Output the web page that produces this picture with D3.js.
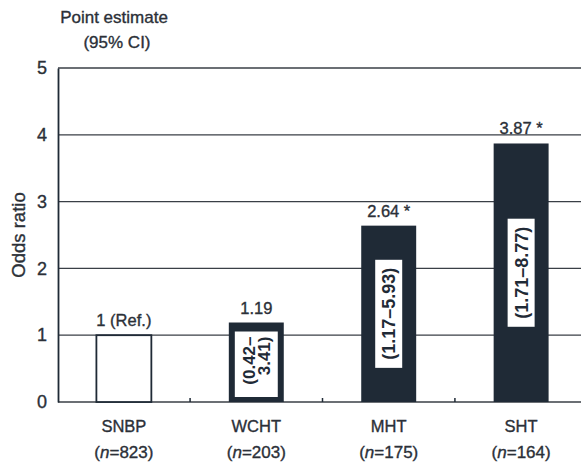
<!DOCTYPE html>
<html>
<head>
<meta charset="utf-8">
<script src="https://cdn.jsdelivr.net/npm/d3@7"></script>
<style>
  html, body { margin: 0; padding: 0; background: #fff; }
  svg { display: block; font-family: "Liberation Sans", Arial, sans-serif; }
  .lbl { fill: #2b3038; stroke: #2b3038; stroke-width: 0.35px; }
</style>
</head>
<body>
<svg id="chart" width="581" height="466"></svg>
<script>
// Odds ratio by group, with 95% confidence intervals
const categories = ["SNBP", "WCHT", "MHT", "SHT"];
const sampleSizes = [823, 203, 175, 164];
const oddsRatios = [1, 1.19, 2.64, 3.87];
const ciLabels = [null, ["(0.42–", "3.41)"], ["(1.17–5.93)"], ["(1.71–8.77)"]];
const valueLabels = ["1 (Ref.)", "1.19", "2.64 *", "3.87 *"];
const yTicks = [0, 1, 2, 3, 4, 5];

const ink = "#1f2a36";

const svg = d3.select("#chart");

const y = d3.scaleLinear().domain([0, 5]).range([402, 68]);
const x = d3.scaleBand()
  .domain(categories)
  .range([58, 587])
  .paddingInner(0.585)
  .paddingOuter(0.29);

// Horizontal gridlines
svg.append("g")
  .selectAll("line")
  .data(yTicks)
  .join("line")
  .attr("x1", 58).attr("x2", 581)
  .attr("y1", d => y(d)).attr("y2", d => y(d))
  .attr("stroke", "#3a3f46")
  .attr("stroke-width", 1.3);

// Y axis
const yAxis = d3.axisLeft(y).tickValues(yTicks).tickSize(0).tickPadding(11).tickFormat(d3.format("d"));
const gy = svg.append("g").attr("transform", "translate(58,0)").call(yAxis);
gy.select(".domain").attr("stroke", ink).attr("stroke-width", 1.8);
gy.selectAll("text").attr("font-size", 18).attr("class", "lbl");
gy.attr("font-family", null).attr("font-size", null);

// Small separator ticks on the baseline between groups
const seps = categories.slice(1).map((c, i) => (x(categories[i]) + x.bandwidth() + x(c)) / 2);
svg.append("g").selectAll("line").data(seps).join("line")
  .attr("x1", d => d).attr("x2", d => d)
  .attr("y1", y(0)).attr("y2", y(0) - 4)
  .attr("stroke", ink).attr("stroke-width", 1.5);

// Bars
const bars = svg.append("g");
categories.forEach((c, i) => {
  const v = oddsRatios[i];
  const bx = x(c), bw = x.bandwidth();
  const top = y(v), bottom = y(0);
  if (i === 0) {
    bars.append("rect")
      .attr("x", bx).attr("y", top)
      .attr("width", bw).attr("height", bottom - top)
      .attr("fill", "#fff").attr("stroke", ink).attr("stroke-width", 1.8);
  } else {
    bars.append("rect")
      .attr("x", bx).attr("y", top)
      .attr("width", bw).attr("height", bottom - top)
      .attr("fill", ink);
  }
});

// Confidence-interval labels inside the bars
categories.forEach((c, i) => {
  const lines = ciLabels[i];
  if (!lines) return;
  const bx = x(c), bw = x.bandwidth();
  const cx = bx + bw / 2;
  const top = y(oddsRatios[i]), bottom = y(0);
  const g = svg.append("g");
  const box = g.append("rect").attr("fill", "#fff");
  const t = g.append("text")
    .attr("font-weight", "bold")
    .attr("fill", ink);
  if (lines.length > 1) {
    // short bar: hollow frame, two end-aligned lines
    const inTop = top + 9, inBot = bottom - 5;
    box.attr("x", bx + 6).attr("y", inTop)
      .attr("width", bw - 12).attr("height", inBot - inTop);
    t.attr("transform", `translate(${cx},${inTop + 5}) rotate(-90)`)
      .attr("text-anchor", "end")
      .attr("font-size", 17);
    const lh = 15.5;
    lines.forEach((ln, k) => {
      t.append("tspan")
        .attr("x", 0)
        .attr("y", (k - (lines.length - 1) / 2) * lh)
        .attr("dy", "0.36em")
        .text(ln);
    });
  } else {
    const cy = (top + bottom) / 2;
    t.attr("transform", `translate(${cx},${cy}) rotate(-90)`)
      .attr("text-anchor", "middle")
      .attr("font-size", 18)
      .append("tspan").attr("x", 0).attr("y", 0).attr("dy", "0.36em").text(lines[0]);
    const len = t.node().getComputedTextLength();
    const boxW = 27, boxH = len + 16;
    box.attr("x", cx - boxW / 2).attr("y", cy - boxH / 2)
      .attr("width", boxW).attr("height", boxH);
  }
});

// Point estimate labels above bars
svg.append("g").selectAll("text").data(categories).join("text")
  .attr("class", "lbl")
  .attr("x", d => x(d) + x.bandwidth() / 2)
  .attr("y", (d, i) => y(oddsRatios[i]) - 9)
  .attr("text-anchor", "middle")
  .attr("font-size", 16.5)
  .text((d, i) => valueLabels[i]);

// Category labels and sample sizes
const xl = svg.append("g");
categories.forEach((c, i) => {
  const cx = x(c) + x.bandwidth() / 2;
  xl.append("text")
    .attr("class", "lbl")
    .attr("x", cx).attr("y", 432)
    .attr("text-anchor", "middle")
    .attr("font-size", 16.5)
    .text(c);
  const n = xl.append("text")
    .attr("class", "lbl")
    .attr("x", cx).attr("y", 458)
    .attr("text-anchor", "middle")
    .attr("font-size", 17);
  n.append("tspan").text("(");
  n.append("tspan").attr("font-style", "italic").text("n");
  n.append("tspan").text("=" + sampleSizes[i] + ")");
});

// Y axis title
svg.append("text")
  .attr("class", "lbl")
  .attr("transform", `translate(25,${(y(0) + y(5)) / 2}) rotate(-90)`)
  .attr("text-anchor", "middle")
  .attr("font-size", 18.5)
  .text("Odds ratio");

// Header
svg.append("text")
  .attr("class", "lbl")
  .attr("x", 114).attr("y", 23)
  .attr("text-anchor", "middle")
  .attr("font-size", 17)
  .text("Point estimate");
svg.append("text")
  .attr("class", "lbl")
  .attr("x", 117).attr("y", 48)
  .attr("text-anchor", "middle")
  .attr("font-size", 17)
  .text("(95% CI)");
</script>
</body>
</html>
